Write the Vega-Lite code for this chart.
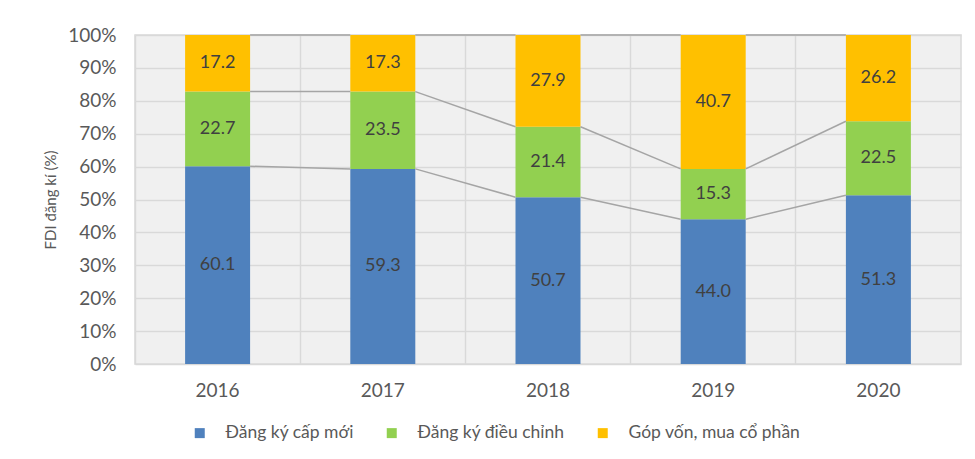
{
  "$schema": "https://vega.github.io/schema/vega-lite/v6.json",
  "width": 826,
  "height": 329,
  "autosize": {"type": "none"},
  "padding": {"left": 135, "top": 35, "right": 14, "bottom": 95},
  "background": "white",
  "config": {
    "font": "Lato",
    "view": {"stroke": "#d9d9d9", "strokeWidth": 1.5, "fill": "#f0f0f0"},
    "axisY": {"tickCount": 12, "labelOverlap": false}
  },
  "datasets": {
    "bars": [
      {"year": "2016", "type": "Đăng ký cấp mới", "k": 1, "value": 60.1},
      {"year": "2016", "type": "Đăng ký điều chỉnh", "k": 2, "value": 22.7},
      {"year": "2016", "type": "Góp vốn, mua cổ phần", "k": 3, "value": 17.2},
      {"year": "2017", "type": "Đăng ký cấp mới", "k": 1, "value": 59.3},
      {"year": "2017", "type": "Đăng ký điều chỉnh", "k": 2, "value": 23.5},
      {"year": "2017", "type": "Góp vốn, mua cổ phần", "k": 3, "value": 17.3},
      {"year": "2018", "type": "Đăng ký cấp mới", "k": 1, "value": 50.7},
      {"year": "2018", "type": "Đăng ký điều chỉnh", "k": 2, "value": 21.4},
      {"year": "2018", "type": "Góp vốn, mua cổ phần", "k": 3, "value": 27.9},
      {"year": "2019", "type": "Đăng ký cấp mới", "k": 1, "value": 44.0},
      {"year": "2019", "type": "Đăng ký điều chỉnh", "k": 2, "value": 15.3},
      {"year": "2019", "type": "Góp vốn, mua cổ phần", "k": 3, "value": 40.7},
      {"year": "2020", "type": "Đăng ký cấp mới", "k": 1, "value": 51.3},
      {"year": "2020", "type": "Đăng ký điều chỉnh", "k": 2, "value": 22.5},
      {"year": "2020", "type": "Góp vốn, mua cổ phần", "k": 3, "value": 26.2}
    ],
    "links": [
      {"year": "2016", "to": "2017", "value": 60.1, "value2": 59.3},
      {"year": "2017", "to": "2018", "value": 59.3, "value2": 50.7},
      {"year": "2018", "to": "2019", "value": 50.7, "value2": 44.0},
      {"year": "2019", "to": "2020", "value": 44.0, "value2": 51.3},
      {"year": "2016", "to": "2017", "value": 82.8, "value2": 82.8},
      {"year": "2017", "to": "2018", "value": 82.8, "value2": 72.1},
      {"year": "2018", "to": "2019", "value": 72.1, "value2": 59.3},
      {"year": "2019", "to": "2020", "value": 59.3, "value2": 73.8},
      {"year": "2016", "to": "2017", "value": 100, "value2": 100},
      {"year": "2017", "to": "2018", "value": 100, "value2": 100},
      {"year": "2018", "to": "2019", "value": 100, "value2": 100},
      {"year": "2019", "to": "2020", "value": 100, "value2": 100}
    ]
  },
  "layer": [
    {
      "data": {"name": "bars"},
      "mark": {"type": "bar", "width": 65},
      "encoding": {
        "x": {
          "field": "year",
          "type": "ordinal",
          "scale": {"paddingInner": 0, "paddingOuter": 0},
          "axis": {
            "title": null,
            "labelAngle": 0,
            "bandPosition": 0,
            "ticks": false,
            "domain": false,
            "grid": true,
            "gridColor": "#d9d9d9",
            "gridWidth": 1.5,
            "labelFontSize": 19,
            "labelColor": "#595959",
            "labelPadding": 17
          }
        },
        "y": {
          "field": "value",
          "type": "quantitative",
          "stack": "zero",
          "scale": {"domain": [0, 100], "nice": false, "clamp": true},
          "axis": {
            "title": "FDI đăng kí (%)",
            "titleFontSize": 15,
            "titleFontWeight": "normal",
            "titleColor": "#595959",
            "titlePadding": 9,
            "values": [0, 10, 20, 30, 40, 50, 60, 70, 80, 90, 100],
            "tickCount": 12,
            "labelOverlap": false,
            "labelExpr": "datum.value + '%'",
            "labelFontSize": 19,
            "labelColor": "#595959",
            "labelPadding": 19,
            "ticks": false,
            "domain": false,
            "grid": true,
            "gridColor": "#d9d9d9",
            "gridWidth": 1.5
          }
        },
        "color": {
          "field": "type",
          "type": "nominal",
          "scale": {
            "domain": ["Đăng ký cấp mới", "Đăng ký điều chỉnh", "Góp vốn, mua cổ phần"],
            "range": ["#4f81bd", "#92d050", "#ffc000"]
          },
          "legend": {
            "title": null,
            "orient": "none",
            "direction": "horizontal",
            "legendX": 56,
            "legendY": 389,
            "symbolType": "square",
            "symbolSize": 100,
            "symbolStrokeWidth": 0,
            "labelFontSize": 17.5,
            "labelColor": "#595959",
            "labelOffset": 17,
            "labelLimit": 400,
            "columnPadding": 29
          }
        },
        "order": {"field": "k", "type": "quantitative"}
      }
    },
    {
      "data": {"name": "links"},
      "mark": {"type": "rule", "color": "#a5a5a5", "strokeWidth": 1.5, "xOffset": 32.5, "x2Offset": -32.5},
      "encoding": {
        "x": {"field": "year", "type": "ordinal"},
        "x2": {"field": "to"},
        "y": {"field": "value", "type": "quantitative"},
        "y2": {"field": "value2"}
      }
    },
    {
      "data": {"name": "bars"},
      "mark": {"type": "text", "fontSize": 18, "color": "#404040"},
      "encoding": {
        "x": {"field": "year", "type": "ordinal"},
        "y": {"field": "value", "type": "quantitative", "stack": "zero", "bandPosition": 0.5},
        "detail": {"field": "type"},
        "order": {"field": "k", "type": "quantitative"},
        "text": {"field": "value", "type": "quantitative", "format": ".1f"}
      }
    }
  ]
}
